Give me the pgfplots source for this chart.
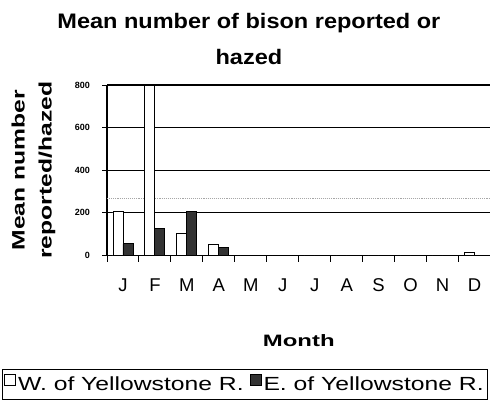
\documentclass[border=0pt]{standalone}
\usepackage{fontspec}
\setmainfont{Liberation Sans}
\usepackage{pgfplots}
\usepackage{pgfplotstable}
\pgfplotsset{compat=1.18}
\pgfplotstableread{
m W E
1 205 55
2 800 129
3 105 205
4 50 39
5 0 0
6 0 0
7 0 0
8 0 0
9 0 0
10 0 0
11 0 0
12 12 0
}\bisondata
\begin{document}
\begin{tikzpicture}[x=1bp,y=1bp]
\useasboundingbox (0,0) rectangle (490,414);
\clip (0,0) rectangle (490,414);
\begin{axis}[
  at={(107bp,158.5bp)}, anchor=south west,
  scale only axis, width=383.5bp, height=170.5bp,
  xmin=0.5, xmax=12.5, ymin=0, ymax=800,
  axis x line*=bottom, axis y line*=left,
  axis line style={black, line width=1.2bp, -},
  ytick={0,200,400,600,800},
  ymajorgrids, grid style={black, line width=1.1bp},
  xtick={1,...,12}, xticklabels={J,F,M,A,M,J,J,A,S,O,N,D},
  minor xtick={0.5,1.5,...,12.5},
  tick align=outside, major tick length=5bp, minor tick length=6bp,
  major x tick style={draw=none},
  every tick/.append style={black, line width=1bp},
  /pgf/number format/assume math mode=true,
  yticklabel style={font=\bfseries\fontsize{9bp}{9bp}\selectfont, inner sep=0pt, xshift=-12bp},
  xticklabel style={font=\fontsize{18.5bp}{18.5bp}\selectfont, inner sep=0pt, yshift=-18bp},
  extra y ticks={267}, extra y tick labels={},
  extra y tick style={grid=major, grid style={gray!70, densely dotted, line width=0.7bp}, major tick length=0pt},
  title={\scalebox{1.12}[1]{Mean number of bison reported or}\\\scalebox{1.12}[1]{hazed}},
  title style={font=\bfseries\fontsize{21bp}{36bp}\selectfont, align=center, at={(axis description cs:0.37,1)}, anchor=south, inner sep=0pt, yshift=14bp},
  ylabel={\scalebox{1.37}[1]{Mean number}\\\scalebox{1.37}[1]{reported/hazed}},
  ylabel style={font=\bfseries\fontsize{18bp}{27bp}\selectfont, align=center, at={(axis description cs:-0.1917,0.5)}, anchor=center, inner sep=0pt},
  xlabel={\scalebox{1.45}[1]{Month}},
  xlabel style={font=\bfseries\fontsize{16.5bp}{16.5bp}\selectfont, at={(axis description cs:0.5,0)}, anchor=south, inner sep=0pt, yshift=-91.5bp},
  ybar=0pt, bar width=10bp,
  legend columns=2,
  legend style={at={(axis description cs:-0.274,-0.666)}, anchor=north west, draw=black, line width=0.8bp,
    font=\fontsize{19bp}{19bp}\selectfont, inner xsep=2bp, inner ysep=5bp,
    /tikz/every even column/.append style={column sep=4bp}},
  legend image code/.code={\draw[#1,/tikz/.cd,line width=0.8bp] (0bp,-1bp) rectangle (11bp,10bp);},
]
\addplot[fill=white, draw=black, line width=0.9bp] table[x=m,y=W]{\bisondata};
\addlegendentry{\scalebox{1.30}[1]{W. of Yellowstone R.}}
\addplot[fill=black!80, draw=black, line width=0.9bp] table[x=m,y=E]{\bisondata};
\addlegendentry{\scalebox{1.30}[1]{E. of Yellowstone R.}}
\end{axis}
\end{tikzpicture}
\end{document}
